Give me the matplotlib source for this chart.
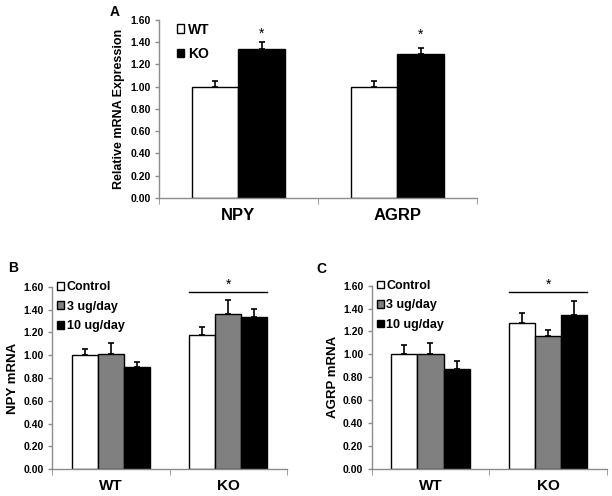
import matplotlib
matplotlib.use('Agg')
import matplotlib.pyplot as plt
from matplotlib.patches import Patch
import numpy as np

plt.rcParams['font.family'] = ['Liberation Sans', 'DejaVu Sans']
plt.rcParams['font.weight'] = 'bold'

# panel A
genes = ['NPY', 'AGRP']
a_groups = ['WT', 'KO']
a_vals = [[1.00, 1.00], [1.34, 1.29]]
a_errs = [[0.05, 0.05], [0.06, 0.06]]
a_stars = [1.48, 1.465]

# panels B and C
geno = ['WT', 'KO']
doses = ['Control', '3 ug/day', '10 ug/day']
npy_vals = [[1.00, 1.18], [1.01, 1.36], [0.90, 1.34]]
npy_errs = [[0.055, 0.07], [0.10, 0.13], [0.04, 0.07]]
agrp_vals = [[1.00, 1.27], [1.00, 1.16], [0.87, 1.34]]
agrp_errs = [[0.08, 0.09], [0.10, 0.05], [0.07, 0.13]]

dose_colors = ['white', '#808080', 'black']
axis_gray = '#8c8c8c'


def style_axes(ax, cats, xfs):
    for s in ['top', 'right']:
        ax.spines[s].set_visible(False)
    for s in ['left', 'bottom']:
        ax.spines[s].set_color(axis_gray)
        ax.spines[s].set_linewidth(1)
    ax.set_ylim(0, 1.6)
    ax.set_xlim(0, len(cats))
    ax.set_yticks(np.arange(0, 1.61, 0.2))
    ax.set_yticklabels(['%.2f' % v for v in np.arange(0, 1.61, 0.2)], fontsize=7.5, fontweight='bold')
    ax.tick_params(axis='y', colors=axis_gray, labelcolor='black', length=3, width=1, pad=3)
    ax.set_xticks(np.arange(len(cats)) + 0.5)
    ax.set_xticklabels(cats, fontsize=xfs, fontweight='bold')
    ax.tick_params(axis='x', length=0, pad=7)
    ax.set_xticks(np.arange(len(cats) + 1), minor=True)
    ax.tick_params(axis='x', which='minor', length=4, colors=axis_gray)


fig = plt.figure(figsize=(6.12, 4.96), dpi=100)

# ---- A
axA = fig.add_axes([0.2598, 0.6008, 0.5196, 0.3589])
w = 0.29
x = np.arange(len(genes)) + 0.5
for i, g in enumerate(a_groups):
    xs = x + (i - 0.5) * w
    axA.bar(xs, a_vals[i], w, color=['white', 'black'][i], edgecolor='black', linewidth=1, zorder=2)
    axA.errorbar(xs, a_vals[i], yerr=[[0] * len(genes), a_errs[i]], fmt='none', ecolor='black',
                 elinewidth=1.2, capsize=2.5, capthick=1.2, zorder=3)
for j in range(len(genes)):
    axA.text(x[j] + 0.5 * w, a_stars[j], '*', ha='center', va='center', fontsize=10, fontweight='normal')
style_axes(axA, genes, 12)
axA.set_ylabel('Relative mRNA Expression', fontsize=9, fontweight='bold', labelpad=4)
axA.legend(handles=[Patch(facecolor='white', edgecolor='black', label='WT'),
                    Patch(facecolor='black', edgecolor='black', label='KO')],
           loc='upper left', bbox_to_anchor=(0.025, 1.04), frameon=False,
           handlelength=0.55, handleheight=0.55, handletextpad=0.25, labelspacing=0.75,
           borderpad=0.2, prop={'weight': 'bold', 'size': 10})
fig.text(110 / 612, 1 - 12 / 496, 'A', fontsize=10, fontweight='bold', ha='left', va='center')


def dose_panel(rect, vals, errs, ylabel, letter, lpos, line_y, star_y):
    ax = fig.add_axes(rect)
    w = 0.222
    x = np.arange(len(geno)) + 0.5
    for i in range(len(doses)):
        xs = x + (i - 1) * w
        ax.bar(xs, vals[i], w, color=dose_colors[i], edgecolor='black', linewidth=1, zorder=2)
        ax.errorbar(xs, vals[i], yerr=[[0] * len(geno), errs[i]], fmt='none', ecolor='black',
                    elinewidth=1.2, capsize=2.5, capthick=1.2, zorder=3)
    ax.plot([x[1] - 1.5 * w, x[1] + 1.5 * w], [line_y, line_y], color='black', lw=1, clip_on=False)
    ax.text(x[1], star_y, '*', ha='center', va='center', fontsize=10, fontweight='normal')
    style_axes(ax, geno, 11)
    ax.set_ylabel(ylabel, fontsize=9.5, fontweight='bold', labelpad=3)
    ax.legend(handles=[Patch(facecolor=c, edgecolor='black', label=d) for c, d in zip(dose_colors, doses)],
              loc='upper left', bbox_to_anchor=(-0.015, 1.08), frameon=False,
              handlelength=0.55, handleheight=0.55, handletextpad=0.2, labelspacing=0.6,
              borderpad=0.2, prop={'weight': 'bold', 'size': 9})
    fig.text(lpos[0] / 612, 1 - lpos[1] / 496, letter, fontsize=10, fontweight='bold', ha='left', va='center')
    return ax


dose_panel([0.085, 0.0544, 0.384, 0.367], npy_vals, npy_errs, 'NPY mRNA', 'B', (8, 268), 1.557, 1.615)
dose_panel([0.6073, 0.0544, 0.3845, 0.3697], agrp_vals, agrp_errs, 'AGRP mRNA', 'C', (316, 269), 1.547, 1.606)

fig.savefig('out.png', dpi=100)
